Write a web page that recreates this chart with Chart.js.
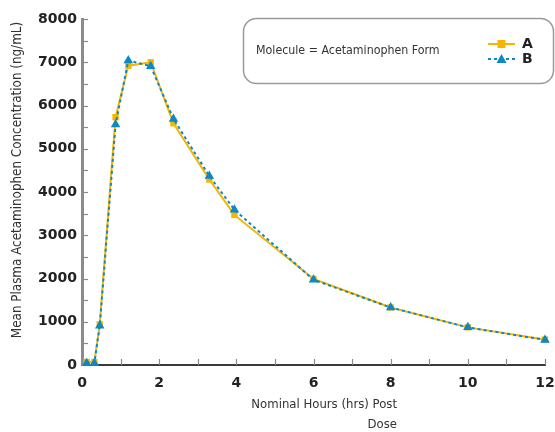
<!DOCTYPE html>
<html><head><meta charset="utf-8">
<script src="https://cdn.jsdelivr.net/npm/chart.js@4/dist/chart.umd.min.js"></script>
<style>html,body{margin:0;padding:0;background:#fff}#wrap{width:555px;height:432px}</style>
</head><body><div id="wrap"><canvas id="c" width="555" height="432"></canvas></div>
<script>
const hours = [0.12, 0.32, 0.46, 0.87, 1.2, 1.78, 2.37, 3.3, 3.95, 6, 8, 10, 12];
const formA = [70, 70, 940, 5730, 6920, 7000, 5590, 4290, 3470, 1990, 1330, 870, 590];
const formB = [40, 40, 905, 5560, 7040, 6910, 5690, 4370, 3590, 1970, 1330, 870, 580];
const xTicks = [0, 2, 4, 6, 8, 10, 12];
const yTicks = [0, 1000, 2000, 3000, 4000, 5000, 6000, 7000, 8000];
const seriesNames = ['A', 'B'];
const legendTitle = 'Molecule = Acetaminophen Form';
const xTitleLines = ['Nominal Hours (hrs) Post', 'Dose'];
const yTitle = 'Mean Plasma Acetaminophen Concentration (ng/mL)';

const colA = '#F7B500', colB = '#0B88C6';
const tf = "'Liberation Sans Narrow','DejaVu Sans Condensed',sans-serif";

const extras = {
  id: 'extras',
  afterDraw(chart) {
    const ctx = chart.ctx, xs = chart.scales.x, ys = chart.scales.y;
    ctx.save();
    ctx.strokeStyle = '#8a8a8a'; ctx.lineWidth = 1.2;
    for (let v = 500; v <= 8000; v += 500) {
      const y = Math.round(ys.getPixelForValue(v)) + 0.5;
      ctx.beginPath(); ctx.moveTo(xs.left, y); ctx.lineTo(xs.left + 6, y); ctx.stroke();
    }
    for (let v = 1; v <= 12; v += 1) {
      const x = Math.round(xs.getPixelForValue(v)) + 0.5;
      ctx.beginPath(); ctx.moveTo(x, ys.bottom); ctx.lineTo(x, ys.bottom - 6); ctx.stroke();
    }
    ctx.fillStyle = '#333';
    ctx.font = '13px ' + tf;
    ctx.textAlign = 'right'; ctx.textBaseline = 'middle';
    ctx.fillText(xTitleLines[0], 397, 405);
    ctx.fillText(xTitleLines[1], 397, 425);
    ctx.save();
    ctx.translate(18, 180); ctx.rotate(-Math.PI / 2);
    ctx.textAlign = 'center'; ctx.font = '13.3px ' + tf;
    ctx.fillText(yTitle, 0, 0);
    ctx.restore();
    ctx.strokeStyle = '#9a9a9a'; ctx.lineWidth = 1.5;
    ctx.beginPath(); ctx.roundRect(243.5, 18.5, 310, 65, 13); ctx.stroke();
    ctx.fillStyle = '#333'; ctx.textAlign = 'left';
    ctx.font = '12.3px ' + tf;
    ctx.fillText(legendTitle, 256, 51);
    const ds = chart.data.datasets;
    const rows = [44, 59];
    ds.forEach((d, i) => {
      const y = rows[i];
      ctx.strokeStyle = d.borderColor; ctx.lineWidth = d.borderWidth;
      ctx.setLineDash(d.borderDash || []);
      ctx.beginPath(); ctx.moveTo(488, y); ctx.lineTo(515, y); ctx.stroke();
      ctx.setLineDash([]);
      ctx.fillStyle = d.pointBackgroundColor;
      if (d.pointStyle === 'rect') { ctx.fillRect(497.5, y - 4, 8, 8); }
      else { ctx.beginPath(); ctx.moveTo(501.5, y - 5); ctx.lineTo(506.5, y + 4); ctx.lineTo(496.5, y + 4); ctx.closePath(); ctx.fill(); }
      ctx.fillStyle = '#222'; ctx.font = 'bold 14px DejaVu Sans';
      ctx.fillText(seriesNames[i], 522, y);
    });
    ctx.restore();
  }
};

new Chart(document.getElementById('c'), {
  type: 'line',
  data: {
    datasets: [
      { label: seriesNames[0], order: 1, data: hours.map((h, i) => ({x: h, y: formA[i]})),
        borderColor: colA, backgroundColor: colA, pointBackgroundColor: colA, pointBorderColor: colA,
        borderWidth: 2, pointStyle: 'rect', pointRadius: 4.5, pointBorderWidth: 0, tension: 0 },
      { label: seriesNames[1], order: 0, data: hours.map((h, i) => ({x: h, y: formB[i]})),
        borderColor: colB, backgroundColor: colB, pointBackgroundColor: colB, pointBorderColor: colB,
        borderWidth: 2, borderDash: [3, 3], pointStyle: 'triangle', pointRadius: 5.5, pointBorderWidth: 0, tension: 0 }
    ]
  },
  options: {
    responsive: false, animation: false, clip: false,
    layout: { padding: { top: 19, right: 10, left: 0, bottom: 0 } },
    plugins: { legend: { display: false }, tooltip: { enabled: false } },
    scales: {
      x: { type: 'linear', min: 0, max: 12,
        afterBuildTicks: s => { s.ticks = xTicks.map(v => ({value: v})); },
        afterFit: s => { s.height = 67; s.paddingLeft = 0; s.paddingRight = 0; },
        grid: { display: false, drawTicks: false },
        border: { display: true, color: '#3a3a3a', width: 2 },
        ticks: { padding: 10, color: '#222', callback: v => String(v), font: { family: 'DejaVu Sans', weight: 'bold', size: 14 } } },
      y: { min: 0, max: 8000,
        afterBuildTicks: s => { s.ticks = yTicks.map(v => ({value: v})); },
        afterFit: s => { s.width = 82; s.paddingTop = 0; s.paddingBottom = 0; },
        grid: { display: false, drawTicks: false },
        border: { display: true, color: '#8c8c8c', width: 3 },
        ticks: { padding: 5, color: '#222', callback: v => String(v), font: { family: 'DejaVu Sans', weight: 'bold', size: 14 } } }
    }
  },
  plugins: [extras]
});
</script></body></html>
